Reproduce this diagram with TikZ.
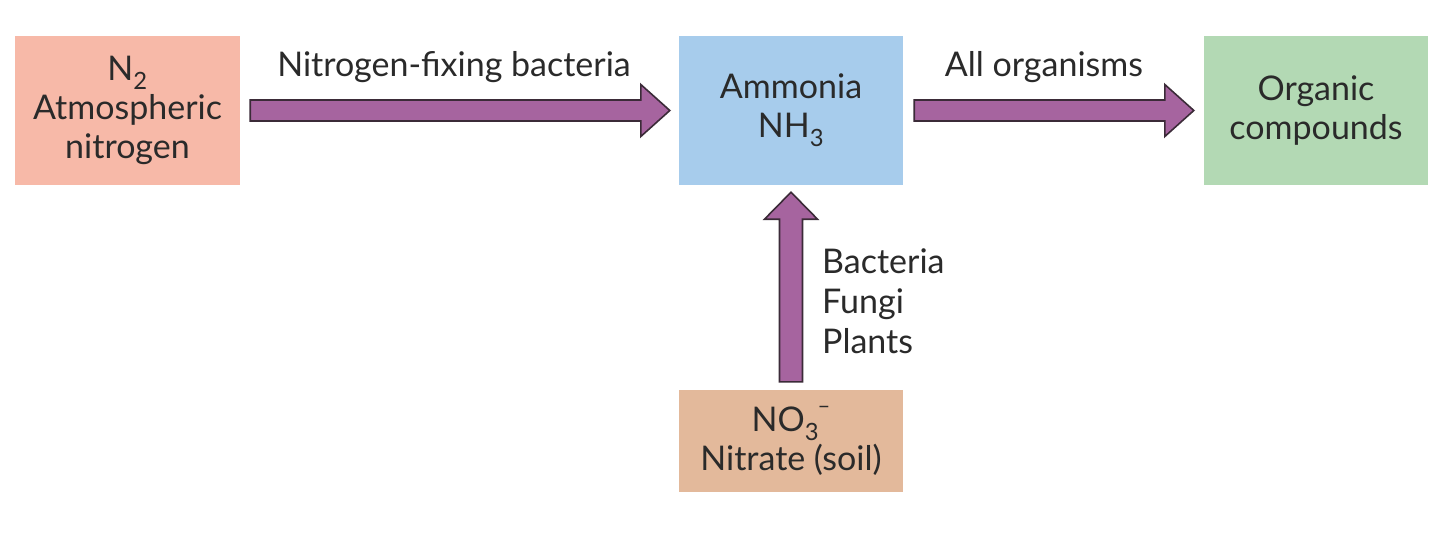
\documentclass[tikz,border=0pt]{standalone}
\usepackage{fontspec}
\setmainfont{Lato}
\usetikzlibrary{calc}
\definecolor{salmon}{HTML}{F7B9A8}
\definecolor{skyb}{HTML}{A7CCEC}
\definecolor{mint}{HTML}{B3D9B4}
\definecolor{tan}{HTML}{E3B99B}
\definecolor{purp}{HTML}{A6649F}
\definecolor{outl}{HTML}{3B2B38}
\definecolor{txt}{HTML}{2A2A2A}
\begin{document}
\begin{tikzpicture}[x=1pt,y=-1pt,
  box/.style={rectangle,inner sep=0pt,align=center,text=txt,font=\fontsize{34}{39}\selectfont},
  lbl/.style={inner sep=0pt,text=txt,font=\fontsize{34}{40}\selectfont},
  fat/.style={fill=purp,draw=outl,line width=1.6pt,line join=miter}]
\useasboundingbox (0,0) rectangle (1440,535);
\fill[white] (0,0) rectangle (1440,535);
\node[box,fill=salmon,minimum width=225pt,minimum height=149pt] (n2) at (127.5,110.5) {N\textsubscript{2}\\Atmospheric\\nitrogen};
\node[box,fill=skyb,minimum width=224pt,minimum height=149pt] (amm) at (791,110.5) {Ammonia\\NH\textsubscript{3}};
\node[box,fill=mint,minimum width=224pt,minimum height=149pt] (org) at (1316,110.5) {Organic\\compounds};
\node[box,fill=tan,minimum width=224pt,minimum height=102pt] (nit) at (791,441) {NO\textsubscript{3}\kern-0.05em\raisebox{0.55em}{\fontsize{22}{22}\selectfont –}\\Nitrate (soil)};
% arrow 1
\coordinate (a1s) at ($(n2.east)+(10,0)$);
\coordinate (a1e) at ($(amm.west)+(-9,0)$);
\draw[fat] ($(a1s)+(0,-10.5)$) -- ($(a1e)+(-29,-10.5)$) -- ($(a1e)+(-29,-26)$) -- (a1e)
  -- ($(a1e)+(-29,26)$) -- ($(a1e)+(-29,10.5)$) -- ($(a1s)+(0,10.5)$) -- cycle;
% arrow 2
\coordinate (a2s) at ($(amm.east)+(11,0)$);
\coordinate (a2e) at ($(org.west)+(-10,0)$);
\draw[fat] ($(a2s)+(0,-10.5)$) -- ($(a2e)+(-29,-10.5)$) -- ($(a2e)+(-29,-26)$) -- (a2e)
  -- ($(a2e)+(-29,26)$) -- ($(a2e)+(-29,10.5)$) -- ($(a2s)+(0,10.5)$) -- cycle;
% arrow 3
\coordinate (a3s) at ($(nit.north)+(0,-8)$);
\coordinate (a3e) at ($(amm.south)+(0,7)$);
\draw[fat] ($(a3s)+(-11.5,0)$) -- ($(a3e)+(-11.5,27)$) -- ($(a3e)+(-26.5,27)$) -- (a3e)
  -- ($(a3e)+(26.5,27)$) -- ($(a3e)+(11.5,27)$) -- ($(a3s)+(11.5,0)$) -- cycle;
\node[lbl] (l1) at (454,67) {Nitrogen-fixing bacteria};
\node[lbl] (l2) at (1044,67) {All organisms};
\node[lbl,anchor=west,align=left] (l3) at (822,301) {Bacteria\\Fungi\\Plants};
\end{tikzpicture}
\end{document}
